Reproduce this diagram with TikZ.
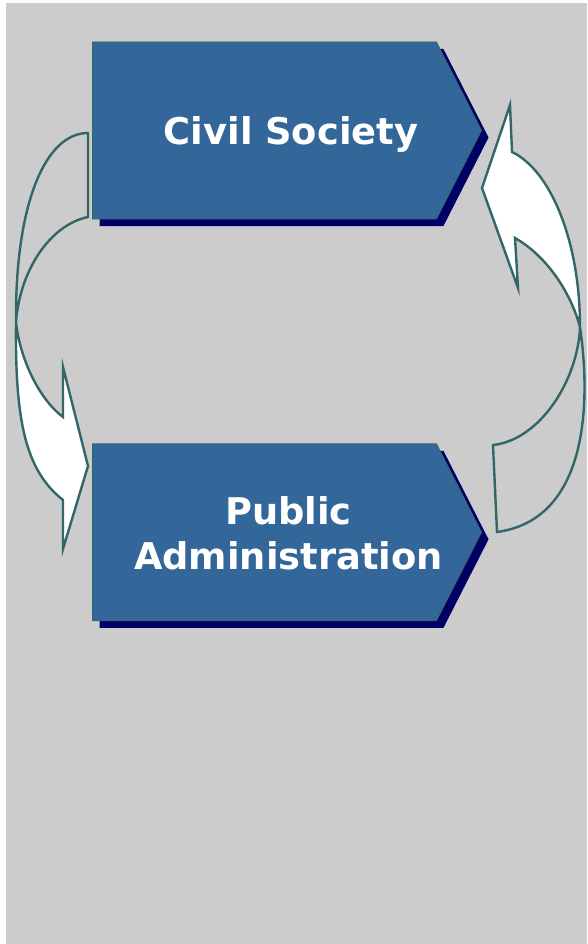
\documentclass[tikz,border=0pt]{standalone}
\usepackage{fontspec}
\setmainfont{DejaVu Sans}
\usetikzlibrary{positioning,shapes.symbols,shadows}
\definecolor{boxblue}{HTML}{336699}
\definecolor{boxedge}{HTML}{336666}
\definecolor{boxshade}{HTML}{000066}
\definecolor{panelgray}{HTML}{CCCCCC}

\begin{document}
\begin{tikzpicture}[
        x=1pt, y=-1pt,
        blockbox/.style={shape=signal, signal to=east, signal from=nowhere,
            signal pointer angle=126, minimum width=389pt, minimum height=177pt,
            inner sep=0pt, draw=boxedge, line width=0.8pt, fill=boxblue,
            drop shadow={shadow xshift=7pt, shadow yshift=-7pt, fill=boxshade, opacity=1}},
        boxtext/.style={text=white, align=center,
            font=\bfseries\fontsize{36.8}{45}\selectfont},
        bendarrow/.style={draw=boxedge, line width=2.4pt, line join=miter},
        bendfill/.style={fill=white}]
        % PANEL
        \useasboundingbox (0,0) rectangle (587,944);
        \fill[white] (0,0) rectangle (587,944);
        \fill[panelgray] (6,3) rectangle (587,944);

        % NODES
        % civil society
        \node[blockbox] (civilbox) at (264.5,130.5) {};
        \node[boxtext, anchor=base] (civil) at (291,145) {Civil Society};
        % public administration
        \node[blockbox, below=224pt of civilbox] (publicbox) {};
        \node[boxtext] (public) at (288.5,533.5) {Public\\Administration};

        % ARROWS
        % left arrow, down from civil to public
        \coordinate (la) at (88,133);
        \coordinate (lb) at (88,217);
        \coordinate (lx) at (16,322);
        \coordinate (lc) at (63,500);
        \coordinate (ld) at (63,417);
        \coordinate (le) at (63,367);
        \coordinate (lt) at (88,466);
        \coordinate (lf) at (63,549);
        \path[bendfill] (lx) .. controls (15,420) and (25,470) .. (lc)
            -- (lf) -- (lt) -- (le) -- (ld)
            .. controls (40,400) and (20,360) .. (lx) -- cycle;
        \draw[bendarrow] (la) .. controls (45,133) and (15,205) .. (lx)
            .. controls (15,420) and (25,470) .. (lc)
            -- (lf) -- (lt) -- (le) -- (ld)
            .. controls (40,400) and (20,360) .. (lx)
            .. controls (20,270) and (50,225) .. (lb) -- cycle;
        % right arrow, up from public to civil
        \coordinate (rs) at (493,445);
        \coordinate (rr) at (497,532);
        \coordinate (ry) at (580,327);
        \coordinate (rp) at (512,152);
        \coordinate (rq) at (515,238);
        \coordinate (re) at (510,105);
        \coordinate (rt) at (482,188);
        \coordinate (rf) at (518,288);
        \path[bendfill] (ry) .. controls (580,240) and (550,170) .. (rp)
            -- (re) -- (rt) -- (rf) -- (rq)
            .. controls (545,255) and (570,290) .. (ry) -- cycle;
        \draw[bendarrow] (rr) .. controls (585,520) and (592,410) .. (ry)
            .. controls (580,240) and (550,170) .. (rp)
            -- (re) -- (rt) -- (rf) -- (rq)
            .. controls (545,255) and (570,290) .. (ry)
            .. controls (578,380) and (540,440) .. (rs) -- cycle;
\end{tikzpicture}
\end{document}
